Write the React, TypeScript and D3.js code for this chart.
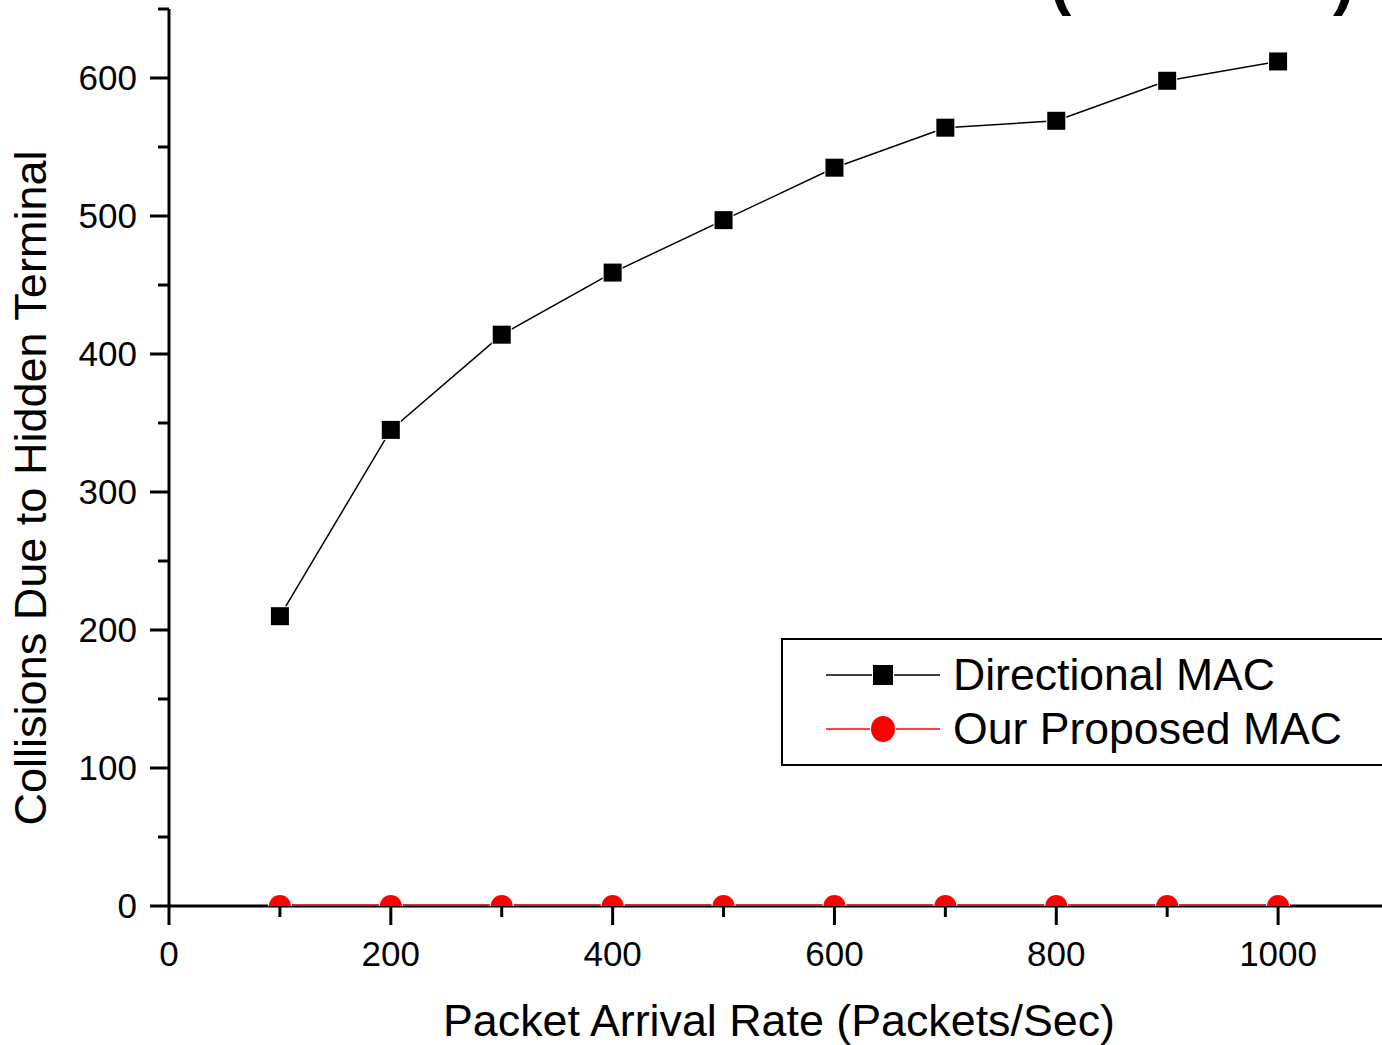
import React from 'react';
import * as d3 from 'd3';

const rates = [100, 200, 300, 400, 500, 600, 700, 800, 900, 1000];
const directionalMac = [210, 345, 414, 459, 497, 535, 564, 569, 598, 612];
const proposedMac = [0, 0, 0, 0, 0, 0, 0, 0, 0, 0];
const xMajorTicks = [0, 200, 400, 600, 800, 1000];
const xMinorTicks = [100, 300, 500, 700, 900, 1100];
const yMajorTicks = [0, 100, 200, 300, 400, 500, 600];
const yMinorTicks = [50, 150, 250, 350, 450, 550, 650];
const seriesNames = ['Directional MAC', 'Our Proposed MAC'];

const W = 1382;
const H = 1045;
const FONT = 'Liberation Sans, Arial, sans-serif';

export default function App() {
  const x = d3.scaleLinear().domain([0, 1100]).range([169, 1389]);
  const y = d3.scaleLinear().domain([0, 650]).range([906, 9]);

  const line = d3.line<number>()
    .x((_, i) => x(rates[i]))
    .y((d) => y(d));

  return (
    <svg width={W} height={H} style={{ position: 'absolute', left: 0, top: 0, background: '#fff' }}
      fontFamily={FONT}>
      <defs>
        <clipPath id="plot">
          <rect x={x(0)} y={y(650)} width={W - x(0)} height={y(0) - y(650)} />
        </clipPath>
      </defs>
      <rect width={W} height={H} fill="#fff" />

      {/* title parentheses, cropped at the top edge as in the source */}
      <text x={1050} y={3} fontSize={64} fontWeight="bold">(</text>
      <text x={1333} y={3} fontSize={64} fontWeight="bold">)</text>

      {/* axes */}
      <line x1={x(0)} x2={W} y1={y(0)} y2={y(0)} stroke="#000" strokeWidth={3} />
      <line x1={x(0)} x2={x(0)} y1={y(650)} y2={y(0)} stroke="#000" strokeWidth={3} />
      {xMajorTicks.map((t) => (
        <g key={'xM' + t}>
          <line x1={x(t)} x2={x(t)} y1={y(0)} y2={y(0) + 19} stroke="#000" strokeWidth={3} />
          <text x={x(t)} y={966} fontSize={35} textAnchor="middle">{t}</text>
        </g>
      ))}
      {xMinorTicks.map((t) => (
        <line key={'xm' + t} x1={x(t)} x2={x(t)} y1={y(0)} y2={y(0) + 11} stroke="#000" strokeWidth={3} />
      ))}
      {yMajorTicks.map((t) => (
        <g key={'yM' + t}>
          <line x1={x(0) - 19} x2={x(0)} y1={y(t)} y2={y(t)} stroke="#000" strokeWidth={3} />
          <text x={137} y={y(t) + 12} fontSize={35} textAnchor="end">{t}</text>
        </g>
      ))}
      {yMinorTicks.map((t) => (
        <line key={'ym' + t} x1={x(0) - 11} x2={x(0)} y1={y(t)} y2={y(t)} stroke="#000" strokeWidth={3} />
      ))}

      {/* axis titles */}
      <text x={443} y={1036} fontSize={44} textLength={672} lengthAdjust="spacingAndGlyphs">
        Packet Arrival Rate (Packets/Sec)
      </text>
      <text transform="translate(46,488) rotate(-90)" fontSize={44} textAnchor="middle"
        textLength={675} lengthAdjust="spacingAndGlyphs">
        Collisions Due to Hidden Terminal
      </text>

      {/* series */}
      <g clipPath="url(#plot)">
        <path d={line(directionalMac) || ''} fill="none" stroke="#000" strokeWidth={1.5} />
        {directionalMac.map((v, i) => (
          <rect key={'d' + i} x={x(rates[i]) - 9} y={y(v) - 9} width={18} height={18}
            fill="#000" stroke="#fff" strokeWidth={2} paintOrder="stroke" />
        ))}
        <path d={line(proposedMac) || ''} fill="none" stroke="#f00" strokeWidth={3} />
        {proposedMac.map((v, i) => (
          <circle key={'p' + i} cx={x(rates[i])} cy={y(v)} r={11} fill="#f00" stroke="#fff" strokeWidth={2} paintOrder="stroke" />
        ))}
      </g>

      {/* legend */}
      <rect x={782} y={639} width={W} height={126} fill="#fff" stroke="#000" strokeWidth={2} />
      <line x1={826} x2={940} y1={675} y2={675} stroke="#000" strokeWidth={1.5} />
      <rect x={873} y={665} width={20} height={20} fill="#000" stroke="#fff" strokeWidth={2} paintOrder="stroke" />
      <text x={953} y={690} fontSize={44} textLength={322} lengthAdjust="spacingAndGlyphs">{seriesNames[0]}</text>
      <line x1={826} x2={940} y1={729} y2={729} stroke="#f00" strokeWidth={1.5} />
      <ellipse cx={883} cy={729} rx={12} ry={13} fill="#f00" stroke="#fff" strokeWidth={2} paintOrder="stroke" />
      <text x={953} y={744} fontSize={44} textLength={389} lengthAdjust="spacingAndGlyphs">{seriesNames[1]}</text>
    </svg>
  );
}
